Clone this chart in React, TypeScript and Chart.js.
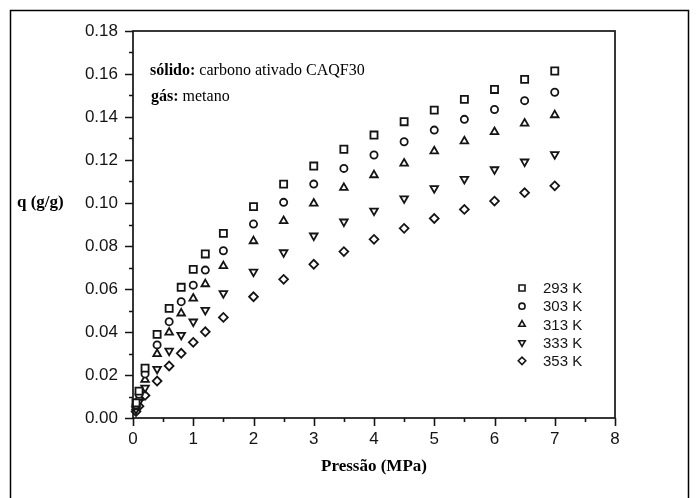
import React, { useEffect, useRef } from 'react';
import { Chart, registerables } from 'chart.js';
import { drawPoint } from 'chart.js/helpers';

Chart.register(...registerables);

// Pressure (MPa) at which each isotherm was measured
const pressures = [0.05, 0.1, 0.2, 0.4, 0.6, 0.8, 1.0, 1.2, 1.5, 2.0, 2.5, 3.0, 3.5, 4.0, 4.5, 5.0, 5.5, 6.0, 6.5, 7.0];

// Adsorbed methane q (g/g) per temperature
const q293 = [0.007, 0.0125, 0.0232, 0.0389, 0.051, 0.0608, 0.0691, 0.0763, 0.0859, 0.0983, 0.1088, 0.1172, 0.125, 0.1316, 0.1378, 0.1432, 0.1482, 0.1528, 0.1575, 0.1614];
const q303 = [0.006, 0.011, 0.0205, 0.034, 0.0448, 0.0541, 0.0618, 0.0688, 0.0778, 0.0902, 0.1003, 0.1088, 0.1161, 0.1223, 0.1285, 0.1339, 0.1389, 0.1435, 0.1476, 0.1515];
const q313 = [0.005, 0.0095, 0.0178, 0.0298, 0.0398, 0.0487, 0.0556, 0.0623, 0.0707, 0.0823, 0.0917, 0.0998, 0.1071, 0.113, 0.1184, 0.1241, 0.1288, 0.1331, 0.137, 0.1409];
const q333 = [0.004, 0.0075, 0.014, 0.0228, 0.0312, 0.0386, 0.0448, 0.0502, 0.058, 0.068, 0.077, 0.0848, 0.0913, 0.0964, 0.1021, 0.1068, 0.1111, 0.1156, 0.1192, 0.1226];
const q353 = [0.003, 0.0055, 0.0105, 0.0172, 0.0242, 0.0301, 0.0352, 0.0401, 0.0468, 0.0564, 0.0645, 0.0715, 0.0774, 0.0831, 0.0882, 0.0928, 0.097, 0.1009, 0.1048, 0.108];

const seriesLabels = ['293 K', '303 K', '313 K', '333 K', '353 K'];
const seriesValues = [q293, q303, q313, q333, q353];

const xMin = 0;
const xMax = 8;
const yMin = 0;
const yMax = 0.18;

const xTitle = 'Pressão (MPa)';
const yTitle = 'q (g/g)';
const noteSolidLabel = 'sólido:';
const noteSolidText = ' carbono ativado CAQF30';
const noteGasLabel = 'gás:';
const noteGasText = ' metano';

const INK = '#141414';
const SANS = '"Liberation Sans", Arial, sans-serif';
const SERIF = '"Liberation Serif", "Times New Roman", serif';

const markers = [
  { pointStyle: 'rect', radius: 5, rotation: 0 },
  { pointStyle: 'circle', radius: 3.6, rotation: 0 },
  { pointStyle: 'triangle', radius: 4.4, rotation: 0 },
  { pointStyle: 'triangle', radius: 4.4, rotation: 180 },
  { pointStyle: 'rectRot', radius: 4.4, rotation: 0 },
];

const decorPlugin = {
  id: 'decor',
  afterDraw(chart: any) {
    const { ctx, chartArea } = chart;
    const { left, right, top, bottom } = chartArea;
    const xs = chart.scales.x;
    const ys = chart.scales.y;
    ctx.save();

    // outer frame
    ctx.strokeStyle = '#000';
    ctx.lineWidth = 1.5;
    ctx.beginPath();
    ctx.moveTo(10.5, 498);
    ctx.lineTo(10.5, 10.5);
    ctx.lineTo(688.5, 10.5);
    ctx.lineTo(688.5, 498);
    ctx.stroke();

    // plot box
    ctx.strokeStyle = INK;
    ctx.lineWidth = 1.7;
    ctx.strokeRect(left, top, right - left, bottom - top);

    // tick marks (major + minor, outward)
    ctx.lineWidth = 1.6;
    ctx.beginPath();
    for (let i = 0; i <= (xMax - xMin) * 2; i++) {
      const v = xMin + i * 0.5;
      const px = Math.round(xs.getPixelForValue(v)) + 0.5;
      const len = i % 2 === 0 ? 8 : 4;
      ctx.moveTo(px, bottom);
      ctx.lineTo(px, bottom + len);
    }
    for (let i = 0; i <= Math.round((yMax - yMin) / 0.01); i++) {
      const v = yMin + i * 0.01;
      const py = Math.round(ys.getPixelForValue(v)) + 0.5;
      const len = i % 2 === 0 ? 8 : 4;
      ctx.moveTo(left, py);
      ctx.lineTo(left - len, py);
    }
    ctx.stroke();

    // axis titles
    ctx.fillStyle = '#000';
    ctx.font = `bold 17px ${SERIF}`;
    ctx.textBaseline = 'middle';
    ctx.textAlign = 'center';
    ctx.fillText(xTitle, (left + right) / 2, 467);
    ctx.textAlign = 'left';
    ctx.fillText(yTitle, 17, ys.getPixelForValue(0.1));

    // annotation
    ctx.textBaseline = 'alphabetic';
    ctx.font = `bold 16px ${SERIF}`;
    ctx.fillText(noteSolidLabel, 150, 75);
    let w = ctx.measureText(noteSolidLabel).width;
    ctx.font = `16px ${SERIF}`;
    ctx.fillText(noteSolidText, 150 + w, 75);
    ctx.font = `bold 16px ${SERIF}`;
    ctx.fillText(noteGasLabel, 151, 101);
    w = ctx.measureText(noteGasLabel).width;
    ctx.font = `16px ${SERIF}`;
    ctx.fillText(noteGasText, 151 + w, 101);

    // legend
    ctx.font = `15px ${SANS}`;
    ctx.textBaseline = 'middle';
    seriesLabels.forEach((label, i) => {
      const y = 288 + i * 18.2;
      const m = markers[i];
      ctx.fillStyle = '#fff';
      ctx.strokeStyle = INK;
      ctx.lineWidth = 1.6;
      drawPoint(ctx, { pointStyle: m.pointStyle, rotation: m.rotation, radius: m.radius * 0.85, borderWidth: 1.6 }, 522, y);
      ctx.fillStyle = INK;
      ctx.fillText(label, 543, y + 1);
    });

    ctx.restore();
  },
};

export default function App() {
  const canvasRef = useRef<HTMLCanvasElement | null>(null);

  useEffect(() => {
    const canvas = canvasRef.current;
    if (!canvas) return;

    const datasets = seriesLabels.map((label, i) => ({
      label,
      data: pressures.map((p, j) => ({ x: p, y: seriesValues[i][j] })),
      showLine: false,
      pointStyle: markers[i].pointStyle as any,
      pointRotation: markers[i].rotation,
      pointRadius: markers[i].radius,
      pointHoverRadius: markers[i].radius,
      pointBorderWidth: 1.8,
      pointBorderColor: INK,
      pointBackgroundColor: '#fff',
      clip: false as any,
    }));

    const chart = new Chart(canvas, {
      type: 'scatter',
      data: { datasets },
      options: {
        animation: false,
        responsive: false,
        maintainAspectRatio: false,
        events: [],
        layout: { padding: { left: 0, top: 31, right: 81, bottom: 0 } },
        plugins: {
          legend: { display: false },
          tooltip: { enabled: false },
        },
        scales: {
          x: {
            type: 'linear',
            min: xMin,
            max: xMax,
            grid: { display: false, drawTicks: false },
            border: { display: false },
            ticks: {
              stepSize: 1,
              padding: 11,
              color: INK,
              font: { family: SANS, size: 17 },
              maxRotation: 0,
              callback: (v: any) => String(v),
            },
            afterFit: (scale: any) => {
              scale.height = 80;
            },
          },
          y: {
            type: 'linear',
            min: yMin,
            max: yMax,
            grid: { display: false, drawTicks: false },
            border: { display: false },
            ticks: {
              stepSize: 0.02,
              padding: 15,
              color: INK,
              font: { family: SANS, size: 17 },
              callback: (v: any) => Number(v).toFixed(2),
            },
            afterFit: (scale: any) => {
              scale.width = 133;
            },
          },
        },
      },
      plugins: [decorPlugin],
    });

    return () => chart.destroy();
  }, []);

  return (
    <div style={{ position: 'fixed', left: 0, top: 0, width: 696, height: 498, background: '#fff' }}>
      <canvas ref={canvasRef} width={696} height={498} style={{ display: 'block', width: 696, height: 498 }} />
    </div>
  );
}
